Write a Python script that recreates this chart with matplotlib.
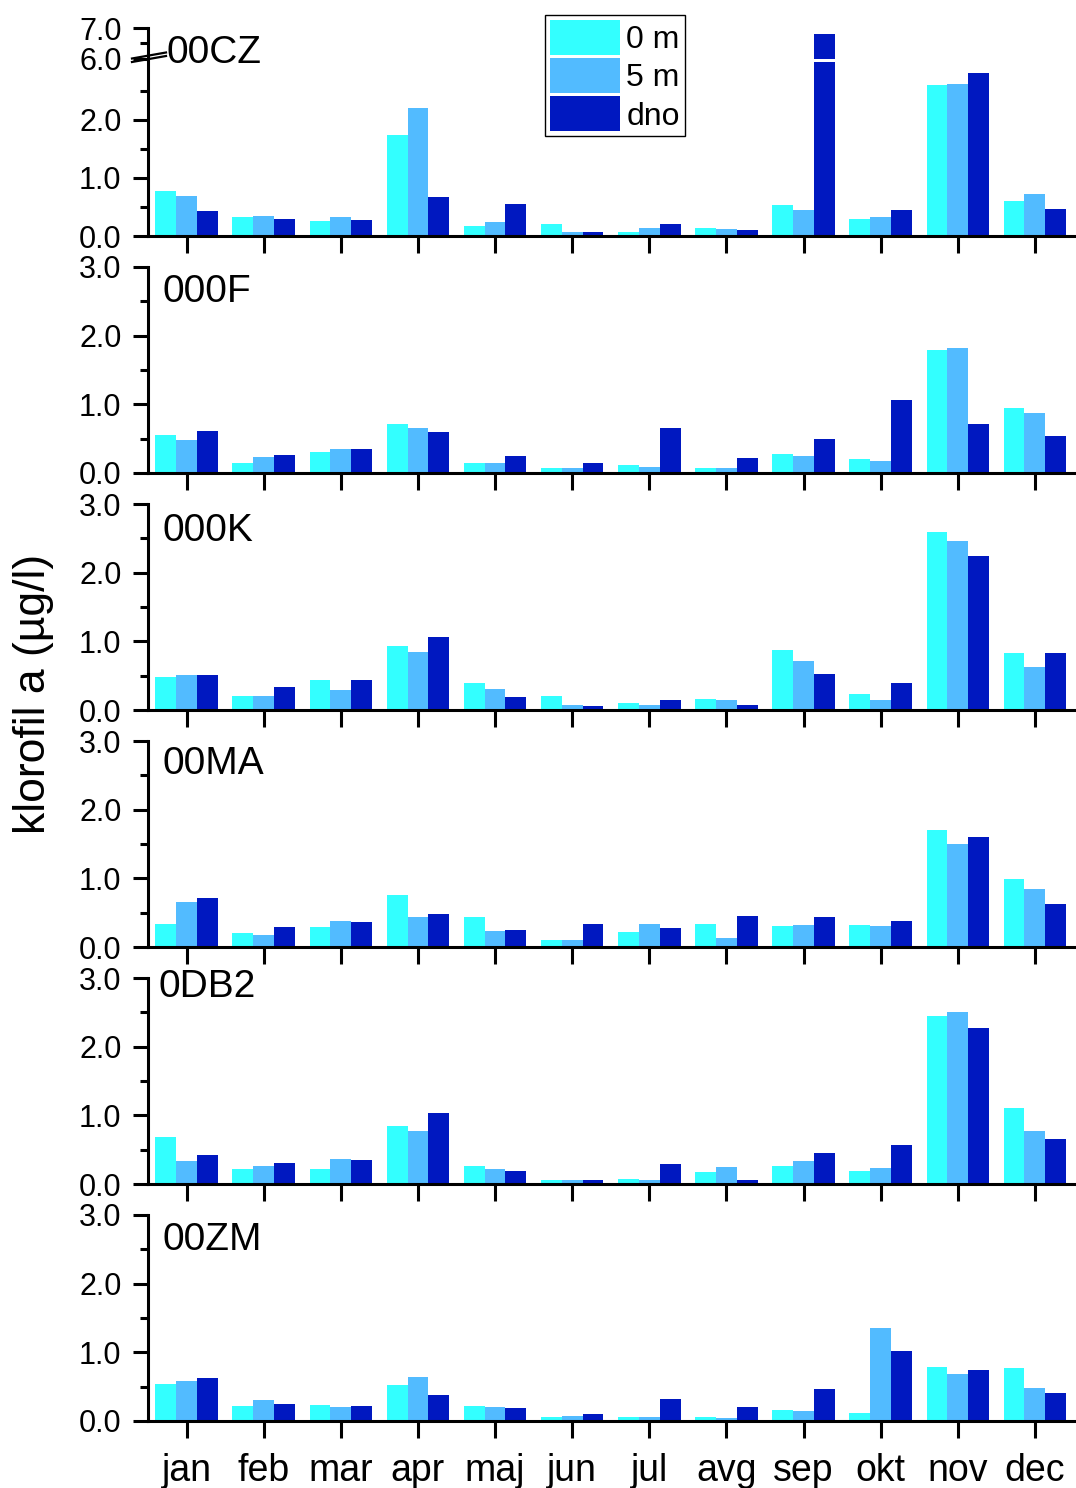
import matplotlib
matplotlib.use("Agg")
import matplotlib.pyplot as plt
import numpy as np
from matplotlib.patches import Patch
from matplotlib.lines import Line2D
from matplotlib.ticker import FixedLocator

plt.rcParams['font.family'] = ['Liberation Sans', 'DejaVu Sans']

months = ["jan", "feb", "mar", "apr", "maj", "jun", "jul", "avg", "sep", "okt", "nov", "dec"]
stations = ["00CZ", "000F", "000K", "00MA", "0DB2", "00ZM"]
depths = ["0 m", "5 m", "dno"]
colors = ["#33FFFF", "#52BBFF", "#0018C0"]

# chlorophyll a (ug/l) per station, 0 m / 5 m / dno
cz_0 = [0.77, 0.32, 0.26, 1.74, 0.17, 0.20, 0.07, 0.14, 0.54, 0.30, 2.60, 0.60]
cz_5 = [0.69, 0.34, 0.32, 2.20, 0.24, 0.07, 0.14, 0.12, 0.44, 0.32, 2.61, 0.73]
cz_d = [0.43, 0.29, 0.27, 0.67, 0.55, 0.07, 0.20, 0.10, 6.80, 0.44, 2.81, 0.47]

f_0 = [0.56, 0.15, 0.30, 0.72, 0.15, 0.07, 0.12, 0.07, 0.27, 0.20, 1.79, 0.94]
f_5 = [0.48, 0.23, 0.35, 0.66, 0.15, 0.07, 0.09, 0.07, 0.25, 0.17, 1.82, 0.87]
f_d = [0.61, 0.26, 0.35, 0.60, 0.25, 0.15, 0.65, 0.22, 0.50, 1.06, 0.71, 0.54]

k_0 = [0.48, 0.20, 0.44, 0.93, 0.39, 0.20, 0.10, 0.16, 0.87, 0.23, 2.59, 0.83]
k_5 = [0.51, 0.20, 0.29, 0.84, 0.30, 0.08, 0.08, 0.14, 0.71, 0.14, 2.46, 0.62]
k_d = [0.51, 0.33, 0.44, 1.07, 0.19, 0.06, 0.15, 0.07, 0.52, 0.39, 2.25, 0.83]

ma_0 = [0.33, 0.20, 0.29, 0.76, 0.44, 0.10, 0.22, 0.33, 0.30, 0.32, 1.70, 0.99]
ma_5 = [0.65, 0.17, 0.38, 0.44, 0.23, 0.10, 0.33, 0.13, 0.32, 0.30, 1.50, 0.84]
ma_d = [0.71, 0.29, 0.36, 0.48, 0.25, 0.33, 0.28, 0.45, 0.44, 0.38, 1.60, 0.63]

db_0 = [0.68, 0.22, 0.22, 0.84, 0.26, 0.06, 0.07, 0.17, 0.26, 0.19, 2.45, 1.10]
db_5 = [0.33, 0.26, 0.36, 0.77, 0.22, 0.06, 0.06, 0.25, 0.33, 0.23, 2.50, 0.77]
db_d = [0.42, 0.30, 0.35, 1.03, 0.19, 0.06, 0.29, 0.06, 0.45, 0.57, 2.27, 0.66]

zm_0 = [0.54, 0.22, 0.23, 0.52, 0.22, 0.06, 0.06, 0.06, 0.16, 0.12, 0.79, 0.77]
zm_5 = [0.58, 0.30, 0.20, 0.64, 0.20, 0.07, 0.06, 0.05, 0.14, 1.35, 0.69, 0.48]
zm_d = [0.63, 0.25, 0.22, 0.38, 0.19, 0.10, 0.32, 0.20, 0.47, 1.02, 0.74, 0.41]

data = [(cz_0, cz_5, cz_d), (f_0, f_5, f_d), (k_0, k_5, k_d),
        (ma_0, ma_5, ma_d), (db_0, db_5, db_d), (zm_0, zm_5, zm_d)]

W, H = 1076, 1488
fig = plt.figure(figsize=(W / 100, H / 100), dpi=100)

LEFT, RIGHT = 148, 1075
bottoms = [236, 473, 710, 947, 1184, 1421]
label_pos = [(166, 63), (162, 302), (162, 541), (163, 774), (158, 997), (162, 1250)]

x = np.arange(len(months))
bw = 0.27
lw = 2.2


def px_axes(top, bottom):
    return fig.add_axes([LEFT / W, 1 - bottom / H, (RIGHT - LEFT) / W, (bottom - top) / H])


def style(ax, show_x=True):
    ax.spines['top'].set_visible(False)
    ax.spines['right'].set_visible(False)
    ax.spines['left'].set_linewidth(lw)
    ax.spines['bottom'].set_linewidth(lw)
    ax.tick_params(axis='y', which='major', direction='out', length=11, width=lw,
                   labelsize=22, pad=8)
    ax.tick_params(axis='y', which='minor', direction='out', length=5.5, width=lw)
    ax.tick_params(axis='x', which='major', direction='out', length=12, width=lw,
                   labelsize=27, pad=11)
    ax.set_xlim(-0.5, 11.52)
    ax.set_xticks(x)
    ax.set_xticklabels([])
    if not show_x:
        ax.spines['bottom'].set_visible(False)
        ax.tick_params(axis='x', length=0)


def draw_bars(ax, series):
    for i, vals in enumerate(series):
        ax.bar(x + (i - 1) * bw, vals, width=bw, color=colors[i], linewidth=0)


axes = []
for p, series in enumerate(data):
    if p == 0:
        # broken axis: 0-3 below, 6-7 above
        ax_lo = px_axes(61.5, bottoms[0])
        ax_hi = px_axes(28, 58.5)
        for a in (ax_lo, ax_hi):
            draw_bars(a, series)
        style(ax_lo)
        style(ax_hi, show_x=False)
        ax_lo.set_ylim(0, 3)
        ax_lo.yaxis.set_major_locator(FixedLocator([0, 1, 2]))
        ax_lo.yaxis.set_minor_locator(FixedLocator([0.5, 1.5, 2.5]))
        ax_hi.set_ylim(6, 7)
        ax_hi.yaxis.set_major_locator(FixedLocator([6, 7]))
        ax_hi.yaxis.set_minor_locator(FixedLocator([6.5]))
        ax_hi.set_yticklabels(["6.0", "7.0"])
        ax_lo.set_yticklabels(["0.0", "1.0", "2.0"])
        ax = ax_lo
    else:
        ax = px_axes(bottoms[p] - 206, bottoms[p])
        draw_bars(ax, series)
        style(ax)
        ax.set_ylim(0, 3)
        ax.yaxis.set_major_locator(FixedLocator([0, 1, 2, 3]))
        ax.yaxis.set_minor_locator(FixedLocator([0.5, 1.5, 2.5]))
        ax.set_yticklabels(["0.0", "1.0", "2.0", "3.0"])
    lx, ly = label_pos[p]
    fig.text(lx / W, 1 - ly / H, stations[p], fontsize=28, ha='left', va='baseline')
    axes.append(ax)

axes[-1].set_xticklabels(months)

# axis break marks
for dy in (0, -3.5):
    fig.add_artist(Line2D([132 / W, 166 / W], [1 - (62 + dy) / H, 1 - (56 + dy) / H],
                          color='black', lw=1.6))

fig.text(34 / W, 1 - 694 / H, "klorofil a (µg/l)", rotation=90, fontsize=32,
         ha='center', va='center')

handles = [Patch(facecolor=c, edgecolor='none') for c in colors]
leg = fig.legend(handles, depths, loc='upper left', bbox_to_anchor=(545 / W, 1 - 15 / H),
                 fontsize=23, handlelength=2.2, handleheight=1.3, labelspacing=0.1,
                 handletextpad=0.2, borderpad=0.15, borderaxespad=0, fancybox=False,
                 framealpha=1)
leg.get_frame().set_edgecolor('black')
leg.get_frame().set_linewidth(1)

fig.savefig("out.png", dpi=100)
